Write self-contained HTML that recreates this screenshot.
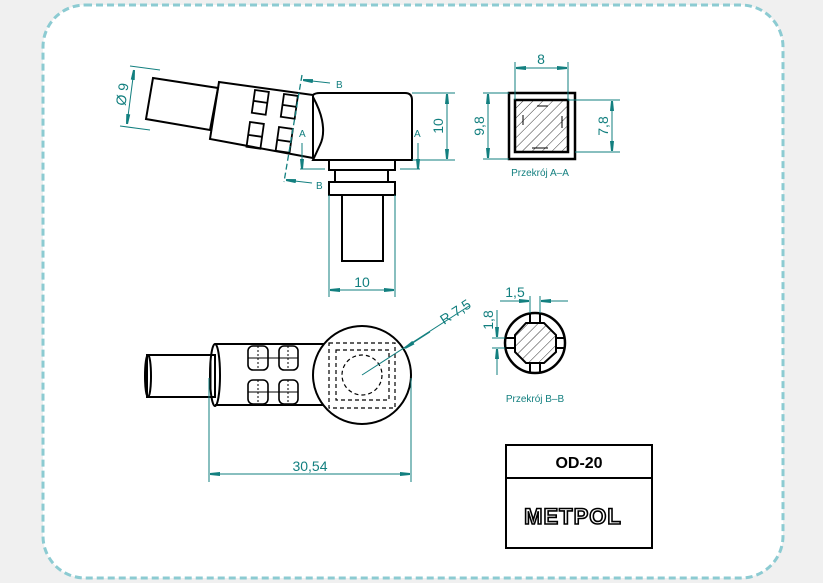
<!DOCTYPE html>
<html><head><meta charset="utf-8"><style>
html,body{margin:0;padding:0;background:#f0f0f0}
svg{display:block}
text{font-family:"Liberation Sans",sans-serif}
</style></head><body>
<svg width="823" height="583" viewBox="0 0 823 583" xmlns="http://www.w3.org/2000/svg">
<defs>
<pattern id="h" width="7" height="7" patternUnits="userSpaceOnUse" patternTransform="rotate(45)"><line x1="0" y1="0" x2="0" y2="7" stroke="#000" stroke-width="0.8"/></pattern>
<marker id="ar" viewBox="0 0 10 6" refX="10" refY="3" markerWidth="10" markerHeight="6" markerUnits="userSpaceOnUse" orient="auto-start-reverse"><path d="M0,1 L10,2 L10,4 L0,5z" fill="#127f7f"/></marker>
</defs>
<rect x="43" y="5" width="740" height="573" rx="42" fill="#fff" stroke="#8ccbd2" stroke-width="3" stroke-dasharray="7 4"/>
<g fill="none" stroke="#000" stroke-width="2">
<!-- top view tilted tube -->
<polygon points="153,78 218,88 210,130 146,119"/>
<polygon points="219,82 313,95 313,158 210,139"/>
<g stroke-width="1.8">
<g transform="translate(255,90) rotate(8)"><rect width="14" height="23"/><line x1="0" y1="11" x2="14" y2="11"/></g>
<g transform="translate(284,94) rotate(8)"><rect width="14" height="23"/><line x1="0" y1="11" x2="14" y2="11"/></g>
<g transform="translate(250,122) rotate(8)"><rect width="14" height="25"/><line x1="0" y1="13" x2="14" y2="13"/></g>
<g transform="translate(279,127) rotate(8)"><rect width="14" height="24"/><line x1="0" y1="13" x2="14" y2="13"/></g>
</g>
<path d="M313,95 Q315,93 320,93 L405,93 Q412,93 412,100 L412,160 L313,160 L320,145 Q325,135 322,120 Q320,110 313,97"/>
<rect x="329" y="160" width="66" height="10"/>
<line x1="335" y1="170" x2="335" y2="182"/><line x1="388" y1="170" x2="388" y2="182"/>
<rect x="329" y="182" width="66" height="13"/>
<rect x="342" y="195" width="41" height="66"/>
<!-- bottom view -->
<rect x="147" y="355" width="68" height="42"/>
<ellipse cx="148" cy="376" rx="3" ry="21"/>
<path d="M215,344 L325,344 M215,405 L325,405"/>
<ellipse cx="215" cy="375" rx="5" ry="31"/>
<line x1="211" y1="360" x2="211" y2="392" stroke-width="1"/>
<g stroke-width="1.6">
<rect x="248" y="346" width="20" height="24" rx="5"/><rect x="279" y="346" width="19" height="24" rx="5"/>
<rect x="248" y="380" width="20" height="24" rx="5"/><rect x="279" y="380" width="19" height="24" rx="5"/>
<line x1="248" y1="358" x2="298" y2="358" stroke-width="1"/><line x1="248" y1="392" x2="298" y2="392" stroke-width="1"/>
<line x1="258" y1="346" x2="258" y2="370" stroke-dasharray="2 2" stroke-width="1"/><line x1="288" y1="346" x2="288" y2="370" stroke-dasharray="2 2" stroke-width="1"/>
<line x1="258" y1="380" x2="258" y2="404" stroke-dasharray="2 2" stroke-width="1"/><line x1="288" y1="380" x2="288" y2="404" stroke-dasharray="2 2" stroke-width="1"/>
</g>
<circle cx="362" cy="375" r="49" fill="#fff"/>
<g stroke-width="1.2" stroke-dasharray="4 3">
<rect x="329" y="343" width="66" height="65"/><rect x="336" y="350" width="53" height="50"/>
<circle cx="362" cy="375" r="20"/>
</g>
<!-- section A-A -->
<rect x="509" y="93" width="66" height="66" stroke-width="2.5"/>
<rect x="515" y="100" width="53" height="52" fill="url(#h)" stroke-width="2.5"/>
<path d="M537,106 L548,106 M532,148 L548,148 M523,115 L523,125 M562,116 L562,128" stroke-width="1"/>
<!-- section B-B -->
<circle cx="535" cy="343" r="30" stroke-width="2.5"/>
<polygon points="526,323 544,323 556,335 556,352 544,363 526,363 515,352 515,335" fill="url(#h)" stroke-width="2"/>
<path d="M530,313 L530,323 M540,313 L540,323 M530,363 L530,373 M540,363 L540,373 M505,338 L515,338 M505,348 L515,348 M556,338 L565,338 M556,348 L565,348" stroke-width="2"/>
<!-- title block -->
<rect x="506" y="445" width="146" height="103" stroke-width="2"/>
<line x1="506" y1="478" x2="652" y2="478"/>
</g>
<!-- dimensions -->
<g stroke="#127f7f" stroke-width="1" fill="none">
<line x1="329" y1="195" x2="329" y2="297"/><line x1="395" y1="195" x2="395" y2="297"/>
<line x1="330" y1="290" x2="394" y2="290" marker-start="url(#ar)" marker-end="url(#ar)"/>
<line x1="412" y1="93" x2="455" y2="93"/><line x1="412" y1="160" x2="455" y2="160"/>
<line x1="447" y1="94" x2="447" y2="159" marker-start="url(#ar)" marker-end="url(#ar)"/>
<line x1="130" y1="66" x2="160" y2="70"/><line x1="120" y1="126" x2="150" y2="130"/>
<line x1="134" y1="70" x2="127" y2="124" marker-start="url(#ar)" marker-end="url(#ar)"/>
<line x1="302" y1="75" x2="284" y2="182" stroke-dasharray="6 3" stroke-width="1.3"/>
<line x1="330" y1="83" x2="303" y2="80" marker-end="url(#ar)"/>
<line x1="312" y1="183" x2="286" y2="180" marker-end="url(#ar)"/>
<line x1="300" y1="169" x2="325" y2="169"/><line x1="400" y1="169" x2="420" y2="169"/>
<line x1="302" y1="143" x2="302" y2="169" marker-end="url(#ar)"/>
<line x1="418" y1="143" x2="418" y2="169" marker-end="url(#ar)"/>
<line x1="209" y1="378" x2="209" y2="482"/><line x1="411" y1="378" x2="411" y2="482"/>
<line x1="210" y1="474" x2="410" y2="474" marker-start="url(#ar)" marker-end="url(#ar)"/>
<line x1="362" y1="375" x2="469" y2="306"/>
<line x1="430" y1="332" x2="405" y2="348" marker-end="url(#ar)"/>
<line x1="515" y1="62" x2="515" y2="100"/><line x1="568" y1="62" x2="568" y2="100"/>
<line x1="516" y1="68" x2="567" y2="68" marker-start="url(#ar)" marker-end="url(#ar)"/>
<line x1="483" y1="93" x2="509" y2="93"/><line x1="483" y1="159" x2="509" y2="159"/>
<line x1="488" y1="94" x2="488" y2="158" marker-start="url(#ar)" marker-end="url(#ar)"/>
<line x1="568" y1="100" x2="620" y2="100"/><line x1="575" y1="152" x2="620" y2="152"/>
<line x1="612" y1="101" x2="612" y2="151" marker-start="url(#ar)" marker-end="url(#ar)"/>
<line x1="530" y1="296" x2="530" y2="313"/><line x1="540" y1="296" x2="540" y2="313"/>
<line x1="500" y1="301" x2="529" y2="301" marker-end="url(#ar)"/><line x1="568" y1="301" x2="541" y2="301" marker-end="url(#ar)"/>
<line x1="492" y1="338" x2="505" y2="338"/><line x1="492" y1="348" x2="505" y2="348"/>
<line x1="497" y1="310" x2="497" y2="337" marker-end="url(#ar)"/><line x1="497" y1="375" x2="497" y2="349" marker-end="url(#ar)"/>
</g>
<g fill="#127f7f" font-size="14">
<text x="362" y="287" text-anchor="middle">10</text>
<text transform="translate(443,126) rotate(-90)" text-anchor="middle">10</text>
<text transform="translate(127,95) rotate(-82)" text-anchor="middle">Ø 9</text>
<text x="310" y="471" text-anchor="middle">30,54</text>
<text transform="translate(444,325) rotate(-33)">R 7,5</text>
<text x="541" y="64" text-anchor="middle">8</text>
<text transform="translate(484,126) rotate(-90)" text-anchor="middle">9,8</text>
<text transform="translate(608,126) rotate(-90)" text-anchor="middle">7,8</text>
<text x="515" y="297" text-anchor="middle">1,5</text>
<text transform="translate(493,320) rotate(-90)" text-anchor="middle">1,8</text>
<g font-size="10"><text x="336" y="88">B</text><text x="316" y="189">B</text><text x="299" y="137">A</text><text x="414" y="137">A</text>
<text x="540" y="176" text-anchor="middle">Przekrój A–A</text><text x="535" y="402" text-anchor="middle">Przekrój B–B</text></g>
</g>
<text x="579" y="468" text-anchor="middle" font-size="16" font-weight="bold">OD-20</text>
<text x="573" y="524" text-anchor="middle" font-size="22" font-weight="bold" fill="#fff" stroke="#000" stroke-width="1.6" letter-spacing="1">METPOL</text>
</svg>
</body></html>
